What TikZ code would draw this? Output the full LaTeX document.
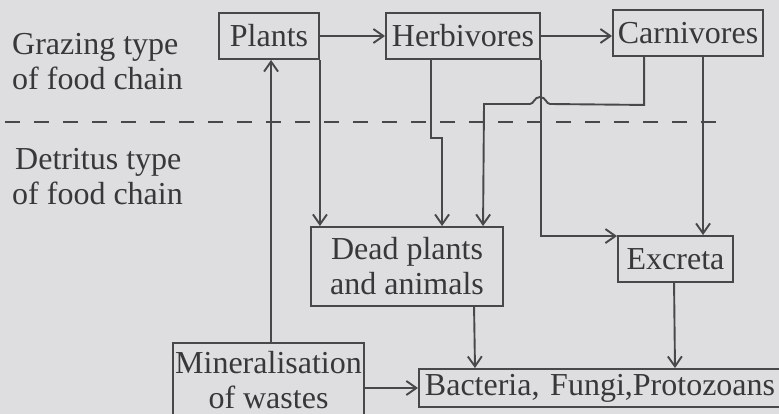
\documentclass[tikz,border=0pt]{standalone}
\usepackage{fontspec}
\setmainfont{Liberation Serif}
\usetikzlibrary{arrows.meta}
\definecolor{bg}{RGB}{222,222,224}
\definecolor{ink}{RGB}{72,72,74}
\definecolor{txt}{RGB}{56,56,58}
\begin{document}
\begin{tikzpicture}[x=1pt,y=-1pt,
  box/.style={draw=ink, line width=1.9pt, inner sep=0pt, text=txt,
    font=\fontsize{32}{35}\selectfont, align=center},
  arr/.style={draw=ink, line width=1.9pt,
    -{Straight Barb[length=10pt,width=14pt,line width=1.9pt]}},
  sep/.style={draw=ink, line width=1.9pt, dash pattern=on 15pt off 14pt},
  lbl/.style={text=txt, font=\fontsize{32}{35}\selectfont, inner sep=0pt, anchor=base west}]
\useasboundingbox (0,0) rectangle (779,414);
\clip (0,0) rectangle (779,414);
\fill[bg] (0,0) rectangle (779,414);

% side labels
\node[lbl] (g1) at (12,55) {Grazing type};
\node[lbl] (g2) at (12,90) {of food chain};
\node[lbl] (d1) at (15,170) {Detritus type};
\node[lbl] (d2) at (12,205) {of food chain};

% separator
\draw[sep] (5,122) -- (722,122);

% boxes
\node[box, minimum width=100pt, minimum height=46pt] (plants) at (269,36) {Plants};
\node[box, minimum width=154pt, minimum height=46pt] (herb) at (463,36) {Herbivores};
\node[box, minimum width=150pt, minimum height=46pt] (carn) at (688,33) {Carnivores};
\node[box, minimum width=192pt, minimum height=79pt] (dead) at (407,266.5) {Dead plants\\and animals};
\node[box, minimum width=115pt, minimum height=46pt] (excreta) at (675.5,259) {Excreta};
\node[box, minimum width=191pt, minimum height=74pt, anchor=north] (mineral) at (268.5,342) {Mineralisation\\of wastes};
\node[box, anchor=west, text width=388pt, align=left, inner xsep=6pt, minimum height=38pt] (bact) at (418,388) {Bacteria, Fungi,Protozoans};

% connectors
\draw[arr] (plants.east) -- (herb.west);
\draw[arr] (herb.east) -- (herb.east -| carn.west);
\draw[arr] (plants.south east) -- (plants.south east |- dead.north);
\draw[arr] ([xshift=46pt]herb.south west) |- ++(11,78) -- ([xshift=132pt]dead.north west);
\draw[arr] (herb.south east) |- ([yshift=-1pt]excreta.north west);
\draw[arr] ([xshift=32pt]carn.south west) -- ++(0,48) -- (550,104)
  .. controls (546,104) and (546,97) .. (540,97)
  .. controls (534,97) and (534,104) .. (530,104) -- (484,104)
  -- ([xshift=173pt]dead.north west);
\draw[arr] ([xshift=91pt]carn.south west) -- ([xshift=86pt]excreta.north west);
\draw[arr] ([xshift=164pt]dead.south west) -- ([xshift=57pt]bact.north west);
\draw[arr] ([xshift=57pt]excreta.south west) -- ([xshift=257pt]bact.north west);
\draw[arr] ([xshift=99pt]mineral.north west) -- ([xshift=53pt]plants.south west);
\draw[arr] (mineral.east |- bact.west) -- (bact.west);
\end{tikzpicture}
\end{document}
